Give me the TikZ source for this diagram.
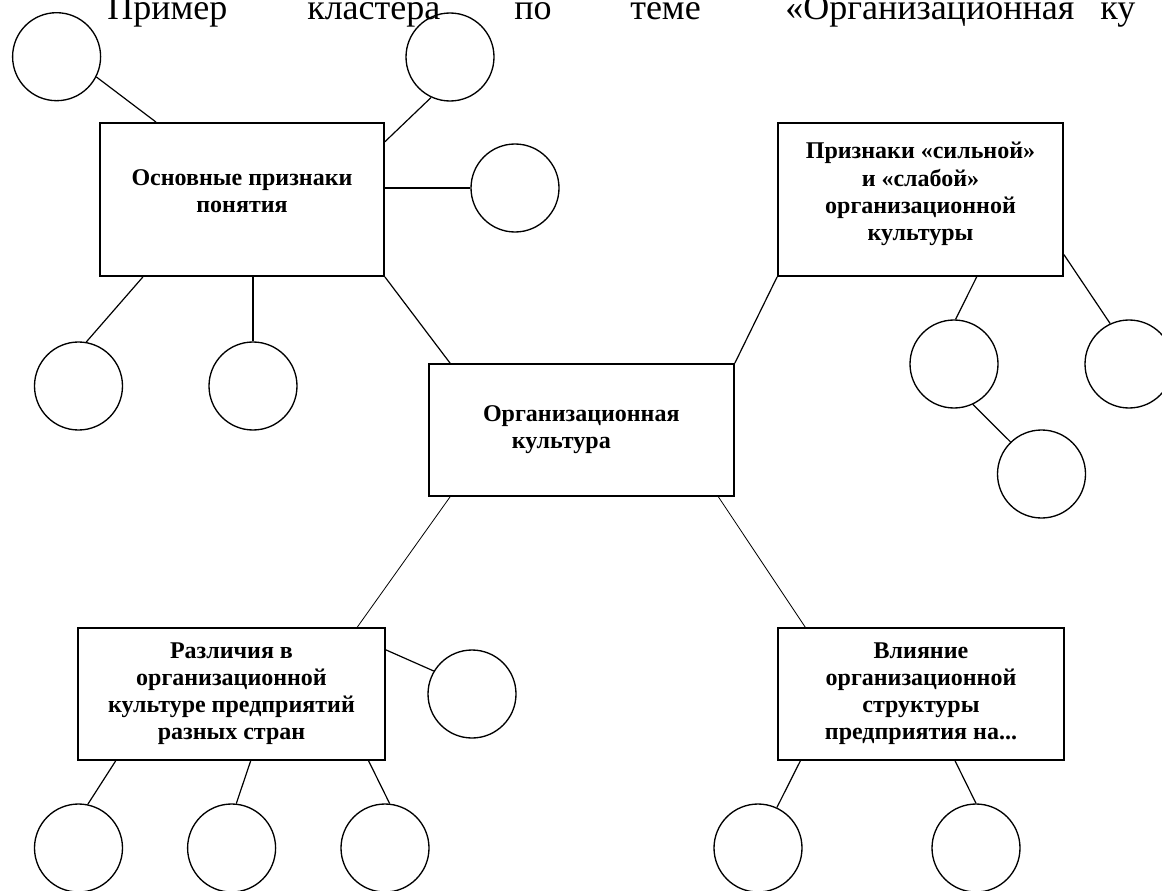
\documentclass[tikz,border=0pt]{standalone}
\usepackage{fontspec}
\setmainfont{Liberation Serif}

\begin{document}
\begin{tikzpicture}
[x=0.75pt,y=-0.75pt,
 box/.style={draw,line width=1.3pt,rectangle,inner sep=0pt,align=center,font=\fontsize{18}{20.3}\selectfont\bfseries},
 blob/.style={draw,circle,line width=1pt,minimum size=66pt,inner sep=0pt},
 word/.style={anchor=base west,inner sep=0pt,font=\fontsize{27}{30}\selectfont}]
\useasboundingbox (0,0) rectangle (1162,891);
\clip (0,0) rectangle (1162,891);
% heading line, cut at the top
\node[word] (t1) at (107,20) {Пример};
\node[word] (t2) at (307,20) {кластера};
\node[word] (t3) at (514,20) {по};
\node[word] (t4) at (630,20) {теме};
\node[word] (t5) at (785,20) {«Организационная};
\node[word] (t6) at (1100,20) {ку};
% boxes
\node[box,minimum width=213pt,minimum height=114.75pt] (A) at (242,199.5) {Основные признаки\\понятия\\[-8pt]\mbox{}};
\node[box,minimum width=213.75pt,minimum height=114.75pt] (B) at (920.5,199.5) {Признаки «сильной»\\и «слабой»\\организационной\\культуры\\[-8pt]\mbox{}};
\node[box,minimum width=229pt,minimum height=99pt] (C) at (581.3,430) {Организационная\\культура\hspace*{30pt}};
\node[box,minimum width=230pt,minimum height=99pt] (D) at (231.5,694) {Различия в\\организационной\\культуре предприятий\\разных стран};
\node[box,minimum width=214.5pt,minimum height=99pt] (E) at (921,694) {Влияние\\организационной\\структуры\\предприятия на...};
% circles
\node[blob] (c1) at (56.6,56.7) {};
\node[blob] (c2) at (450,57) {};
\node[blob] (c3) at (515,188) {};
\node[blob] (c4) at (78.5,386) {};
\node[blob] (c5) at (253,386) {};
\node[blob] (b1) at (954,364) {};
\node[blob] (b2) at (1129,364) {};
\node[blob] (b3) at (1041.5,474) {};
\node[blob] (d1) at (472,694) {};
\node[blob] (d2) at (78.5,848) {};
\node[blob] (d3) at (231.6,848) {};
\node[blob] (d4) at (385,848) {};
\node[blob] (e1) at (758,848) {};
\node[blob] (e2) at (976,848) {};
% connectors
\foreach \from/\to in {c1.-27/A.138,c2.-115/A.22,c4.80/A.-142,A.south east/C.153,B.south west/C.north east,
  B.-54/b1.88,B.-21/b2.115,b1.-65/b3.134,D.16/d1.149,D.-150/d2.78,D.-74/d3.84,D.-26/d4.84,E.-151/e1.65,E.-63/e2.90}
\draw[line width=0.9pt] (\from) -- (\to);
\draw[line width=0.9pt] (c3.west -| A.east) -- (c3.west);
\draw[line width=0.9pt] (c5.north |- A.south) -- (c5.north);
\draw[line width=0.6pt] (C.-153) -- (D.28);
\draw[line width=0.6pt] (C.-26) -- (E.150);
\end{tikzpicture}
\end{document}
